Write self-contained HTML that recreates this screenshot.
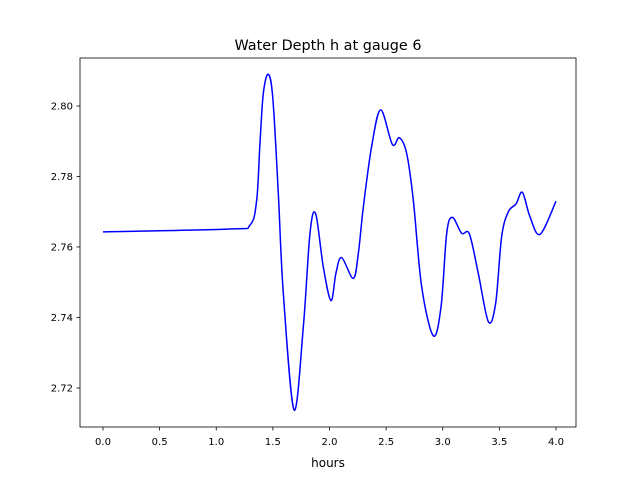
<!DOCTYPE html>
<html><head><meta charset="utf-8"><style>
body{margin:0;background:#fff}
svg text{font-family:"DejaVu Sans","Liberation Sans",sans-serif;fill:#000}
</style></head><body>
<svg width="640" height="480" id="c">
<rect x="0" y="0" width="640" height="480" fill="#fff"/>
<text x="328" y="50" font-size="14.4" text-anchor="middle">Water Depth h at gauge 6</text>
<text x="328" y="467" font-size="12" text-anchor="middle">hours</text>
<g id="ticks"></g>
<path id="line" fill="none" stroke="#0000ff" stroke-width="1.5"/>
<rect x="80" y="58" width="496" height="369" fill="none" stroke="#000" stroke-width="0.8"/>
</svg>
<script>
const hours=[0,1.12,1.298,1.357,1.386,1.416,1.46,1.50,1.548,1.592,1.687,1.769,1.828,1.878,1.945,2.013,2.057,2.107,2.210,2.255,2.299,2.372,2.452,2.555,2.617,2.681,2.740,2.814,2.917,2.985,3.035,3.085,3.167,3.235,3.314,3.403,3.467,3.520,3.579,3.647,3.703,3.770,3.859,4.0];
const depth=[2.7643,2.7651,2.7662,2.7733,2.7894,2.8037,2.8090,2.8020,2.7752,2.747,2.7138,2.7374,2.764,2.7694,2.7544,2.7448,2.7526,2.757,2.7511,2.7583,2.7714,2.7885,2.7989,2.7891,2.791,2.7866,2.7733,2.7487,2.7348,2.7431,2.7639,2.7684,2.7639,2.7637,2.7525,2.7388,2.744,2.7629,2.770,2.7722,2.7755,2.7686,2.7636,2.773];
const xTicks=[0,0.5,1,1.5,2,2.5,3,3.5,4];
const yTicks=[2.72,2.74,2.76,2.78,2.80];
const X=v=>103+(v-0)*113.25;
const Y=v=>106+(2.80-v)*3525;
const NS="http://www.w3.org/2000/svg";
const g=document.getElementById('ticks');
function mk(t,a){const e=document.createElementNS(NS,t);for(const k in a)e.setAttribute(k,a[k]);g.appendChild(e);return e;}
xTicks.forEach(v=>{
 const l=mk('line',{x1:X(v),x2:X(v),y1:427,y2:430.5,stroke:'#000','stroke-width':0.8});
 
 
 const t=mk('text',{x:X(v),y:445,'font-size':10,'text-anchor':'middle'});
 t.textContent=v.toFixed(1);
 
 
});
yTicks.forEach(v=>{
 const l=mk('line',{x1:76.5,x2:80,y1:Y(v),y2:Y(v),stroke:'#000','stroke-width':0.8});
 
 
 const t=mk('text',{x:73,y:Y(v)+3.5,'font-size':10,'text-anchor':'end'});
 t.textContent=v.toFixed(2);
 
 
});
const P=hours.map((h,i)=>[X(h),Y(depth[i])]);
let d='M'+P[0][0]+','+P[0][1];
for(let i=0;i<P.length-1;i++){
 const p0=P[Math.max(0,i-1)],p1=P[i],p2=P[i+1],p3=P[Math.min(P.length-1,i+2)];
 const c1=[p1[0]+(p2[0]-p0[0])/6,p1[1]+(p2[1]-p0[1])/6];
 const c2=[p2[0]-(p3[0]-p1[0])/6,p2[1]-(p3[1]-p1[1])/6];
 d+=` C${c1[0]},${c1[1]} ${c2[0]},${c2[1]} ${p2[0]},${p2[1]}`;
}
document.getElementById('line').setAttribute('d',d);
</script>
</body></html>
